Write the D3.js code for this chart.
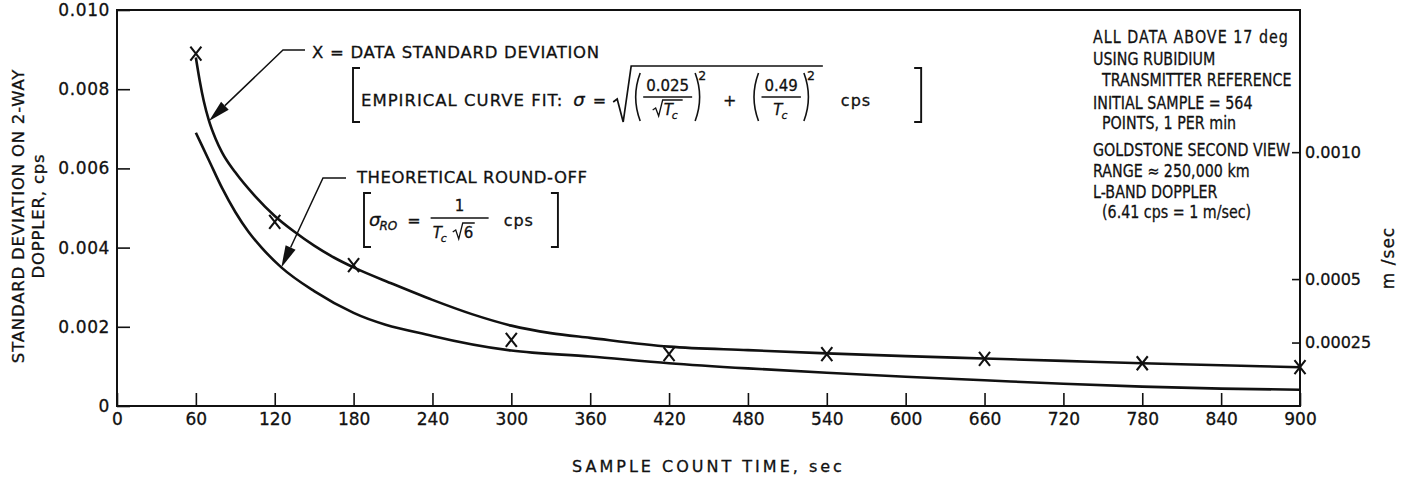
<!DOCTYPE html>
<html>
<head>
<meta charset="utf-8">
<script src="https://cdn.jsdelivr.net/npm/d3@7"></script>
<style>
  html, body { margin: 0; padding: 0; background: #ffffff; }
  svg { display: block; }
  svg text { stroke: #111; stroke-width: 0.3px; }
</style>
</head>
<body>
<svg id="chart" width="1410" height="481"></svg>
<script>
// ---- data ---------------------------------------------------------------
const xTicks = [0, 60, 120, 180, 240, 300, 360, 420, 480, 540, 600, 660, 720, 780, 840, 900];
const xTickLabels = ["0", "60", "120", "180", "240", "300", "360", "420", "480", "540", "600", "660", "720", "780", "840", "900"];
const yTicks = [0, 0.002, 0.004, 0.006, 0.008, 0.010];
const yTickLabels = ["0", "0.002", "0.004", "0.006", "0.008", "0.010"];
const mpsTicks = [0.0010, 0.0005, 0.00025];
const mpsTickLabels = ["0.0010", "0.0005", "0.00025"];
const cpsPerMps = 6.41;

// measured standard deviation (X marks)
const sampleTime = [60, 120, 180, 300, 420, 540, 660, 780, 900];
const dataSigma = [0.0089, 0.00465, 0.00356, 0.00167, 0.00131, 0.00131, 0.00119, 0.00108, 0.00098];

// empirical curve fit
const fitTime = [60, 63, 66, 70, 75, 80, 90, 105, 120, 135, 150, 165, 180, 210, 240, 270, 300, 330,
                 360, 420, 480, 540, 600, 660, 720, 780, 840, 900];
const fitSigma = [0.0088, 0.0082, 0.0077, 0.0072, 0.00675, 0.0064, 0.0059, 0.0053, 0.0048, 0.0044, 0.00405,
                  0.00375, 0.0035, 0.00308, 0.00268, 0.00232, 0.00203, 0.00184,
                  0.00172, 0.0015, 0.00141, 0.00133, 0.00126, 0.0012, 0.00114, 0.00108, 0.00103, 0.00098];

// theoretical round-off
const roTime = [60, 70, 80, 90, 100, 110, 125, 150, 180, 240, 300, 360, 420, 480, 540, 600, 660, 720, 780, 840, 900];
const roSigma = [0.0069, 0.0062, 0.0055, 0.0049, 0.0044, 0.0040, 0.0035, 0.0029, 0.00235, 0.00177, 0.0014,
                 0.00125, 0.00108, 0.00095, 0.00084, 0.00074, 0.00065, 0.00056, 0.00049, 0.00044, 0.00041];

const notes = [
  { text: "ALL DATA ABOVE 17 deg", indent: 0 },
  { text: "USING RUBIDIUM", indent: 0 },
  { text: "TRANSMITTER REFERENCE", indent: 1 },
  { text: "INITIAL SAMPLE = 564", indent: 0 },
  { text: "POINTS, 1 PER min", indent: 1 },
  { text: "GOLDSTONE SECOND VIEW", indent: 0 },
  { text: "RANGE \u2248 250,000 km", indent: 0 },
  { text: "L-BAND DOPPLER", indent: 0 },
  { text: "(6.41 cps = 1 m/sec)", indent: 1 }
];

// ---- setup --------------------------------------------------------------
const INK = "#111";
const FONT = "'DejaVu Sans', 'Liberation Sans', sans-serif";
const svg = d3.select("#chart");

const x = d3.scaleLinear().domain([0, 900]).range([117, 1300]);
const y = d3.scaleLinear().domain([0, 0.010]).range([406, 10]);
const yMps = d3.scaleLinear().domain([0, 0.010 / cpsPerMps]).range([406, 10]);

// frame
svg.append("rect")
  .attr("x", x(0)).attr("y", y(0.010))
  .attr("width", x(900) - x(0)).attr("height", y(0) - y(0.010))
  .attr("fill", "none").attr("stroke", INK).attr("stroke-width", 2);

function styleAxis(g, size) {
  g.select(".domain").remove();
  g.selectAll(".tick line").attr("stroke", INK).attr("stroke-width", 1.6);
  g.selectAll(".tick text").attr("font-family", FONT).attr("font-size", size).attr("fill", INK);
}

// bottom axis
svg.append("g")
  .attr("transform", `translate(0,${y(0)})`)
  .call(d3.axisBottom(x).tickValues(xTicks).tickFormat((d, i) => xTickLabels[i])
    .tickSizeInner(-13).tickSizeOuter(0).tickPadding(7))
  .call(g => styleAxis(g, 17));

// left axis
svg.append("g")
  .attr("transform", `translate(${x(0)},0)`)
  .call(d3.axisLeft(y).tickValues(yTicks).tickFormat((d, i) => yTickLabels[i])
    .tickSizeInner(-13).tickSizeOuter(0).tickPadding(7))
  .call(g => styleAxis(g, 17))
  .call(g => g.selectAll(".tick text").attr("letter-spacing", 0.6));

// right axis in m/sec
svg.append("g")
  .attr("transform", `translate(${x(900)},0)`)
  .call(d3.axisRight(yMps).tickValues(mpsTicks).tickFormat((d, i) => mpsTickLabels[i])
    .tickSizeInner(-8).tickSizeOuter(0).tickPadding(5))
  .call(g => styleAxis(g, 16));

// axis titles
const yTitle = svg.append("g").attr("font-family", FONT).attr("fill", INK)
  .attr("font-size", 16.5).attr("letter-spacing", 0.8).attr("text-anchor", "middle");
yTitle.append("text").attr("transform", "translate(24,216) rotate(-90)").text("STANDARD DEVIATION ON  2-WAY");
yTitle.append("text").attr("transform", "translate(44,216) rotate(-90)").text("DOPPLER,  cps");

svg.append("text").attr("font-family", FONT).attr("fill", INK).attr("font-size", 16)
  .attr("letter-spacing", 3).attr("text-anchor", "middle")
  .attr("x", (x(0) + x(900)) / 2).attr("y", 472)
  .text("SAMPLE COUNT TIME, sec");

svg.append("text").attr("font-family", FONT).attr("fill", INK).attr("font-size", 17)
  .attr("letter-spacing", 1).attr("text-anchor", "middle")
  .attr("transform", "translate(1394,258) rotate(-90)")
  .text("m /sec");

// ---- curves -------------------------------------------------------------
const line = d3.line().x(d => x(d[0])).y(d => y(d[1])).curve(d3.curveMonotoneX);

svg.append("path")
  .datum(fitTime.map((t, i) => [t, fitSigma[i]]))
  .attr("d", line).attr("fill", "none").attr("stroke", INK).attr("stroke-width", 2.6);

svg.append("path")
  .datum(roTime.map((t, i) => [t, roSigma[i]]))
  .attr("d", line).attr("fill", "none").attr("stroke", INK).attr("stroke-width", 2.6);

// X marks
svg.append("g").selectAll("path")
  .data(sampleTime.map((t, i) => [t, dataSigma[i]]))
  .join("path")
  .attr("transform", d => `translate(${x(d[0])},${y(d[1])})`)
  .attr("d", "M-5.5,-7L5.5,7M-5.5,7L5.5,-7")
  .attr("fill", "none").attr("stroke", INK).attr("stroke-width", 2.1);

// ---- annotations --------------------------------------------------------
const ann = svg.append("g").attr("font-family", FONT).attr("fill", INK);

function put(str, x0, yb, size, o = {}) {
  const t = ann.append("text").attr("x", x0).attr("y", yb).attr("font-size", size).text(str);
  if (o.italic) t.attr("font-style", "italic");
  if (o.ls) t.attr("letter-spacing", o.ls);
  if (o.anchor) t.attr("text-anchor", o.anchor);
  return t;
}
const widthOf = t => t.node().getComputedTextLength();
function stroke(d, w = 1.7) {
  return ann.append("path").attr("d", d).attr("fill", "none").attr("stroke", INK).attr("stroke-width", w);
}
function squareBracket(xe, y0, y1, dir) {
  stroke(`M${xe + dir * 7},${y0}H${xe}V${y1}H${xe + dir * 7}`, 1.9);
}
function paren(xp, y0, y1, dir) {
  stroke(`M${xp},${y0}Q${xp - dir * 9},${(y0 + y1) / 2} ${xp},${y1}`, 1.6);
}
function leader(points, tip) {
  const prev = points[points.length - 1];
  const dx = tip[0] - prev[0], dy = tip[1] - prev[1];
  const len = Math.hypot(dx, dy), ux = dx / len, uy = dy / len;
  const L = 22, W = 5.5;
  const bx = tip[0] - ux * L, by = tip[1] - uy * L;
  stroke("M" + points.map(p => p.join(",")).join("L") + `L${bx},${by}`, 1.5);
  ann.append("path")
    .attr("d", `M${tip[0]},${tip[1]}L${bx - uy * W},${by + ux * W}L${bx + uy * W},${by - ux * W}Z`)
    .attr("fill", INK);
}
// T with subscript c
function tc(x0, yb, size) {
  const t = put("T", x0, yb, size, { italic: true });
  const c = put("c", x0 + widthOf(t) - 1, yb + 4, size * 0.72, { italic: true });
  return widthOf(t) - 1 + widthOf(c);
}

// data standard deviation label + leader
put("X = DATA STANDARD DEVIATION", 312, 58, 16.5, { ls: 0.7 });
const fitTipIdx = fitTime.indexOf(70);
leader([[305, 50], [283, 50]], [x(fitTime[fitTipIdx]), y(fitSigma[fitTipIdx])]);

// empirical curve fit formula
(function () {
  const yb = 106, top = 68, bot = 122;
  squareBracket(353, top, bot, 1);
  let cx = 361;
  cx += widthOf(put("EMPIRICAL CURVE FIT:", cx, yb, 16.5, { ls: 1.0 })) + 10;
  cx += widthOf(put("\u03c3", cx, yb, 18, { italic: true })) + 8;
  cx += widthOf(put("=", cx, yb, 16)) + 7;
  const rx = cx;
  cx += 20;

  function fraction(num, denFn, denW) {
    paren(cx + 7, 73, 121, 1);
    cx += 10;
    const nt = put(num, 0, 91, 15, { anchor: "middle" });
    const fw = Math.max(widthOf(nt), denW) + 6;
    nt.attr("x", cx + fw / 2);
    stroke(`M${cx},97H${cx + fw}`, 1.4);
    denFn(cx + fw / 2 - denW / 2, 115);
    cx += fw + 3;
    paren(cx, 73, 121, -1);
    cx += 3;
    cx += widthOf(put("2", cx, 80, 12.5)) + 2;
  }
  // first term: 0.025 / sqrt(Tc)
  fraction("0.025", (x0, yb2) => {
    stroke(`M${x0},${yb2 - 5}L${x0 + 3},${yb2 - 7}L${x0 + 6},${yb2 + 1}L${x0 + 10},${yb2 - 15}H${x0 + 30}`, 1.3);
    tc(x0 + 11, yb2, 15);
  }, 30);
  cx += 15;
  cx += widthOf(put("+", cx, yb, 16)) + 15;
  // second term: 0.49 / Tc
  fraction("0.49", (x0, yb2) => { tc(x0, yb2, 15); }, 16);
  stroke(`M${rx},${yb - 4}L${rx + 4},${yb - 7}L${rx + 10},${bot}L${rx + 18},${66}H${cx + 6}`, 1.7);
  cx += 24;
  cx += widthOf(put("cps", cx, yb, 16, { ls: 1 }));
  squareBracket(cx + 50, top, bot, -1);
})();

// theoretical round-off label + leader
put("THEORETICAL ROUND-OFF", 357, 183, 16.5, { ls: 0.5 });
const roTipIdx = roTime.indexOf(125);
leader([[346, 178], [323, 178]], [x(roTime[roTipIdx]), y(roSigma[roTipIdx])]);

(function () {
  const yb = 226, top = 193, bot = 247;
  squareBracket(364, top, bot, 1);
  let cx = 369;
  const s = put("\u03c3", cx, yb, 18, { italic: true });
  cx += widthOf(s) - 1;
  cx += widthOf(put("RO", cx, yb + 4, 12, { italic: true })) + 10;
  cx += widthOf(put("=", cx, yb, 16)) + 10;
  // fraction 1 / (Tc sqrt 6)
  const denW = 54;
  const fx = cx + denW / 2 + 2;
  put("1", fx, 211, 15, { anchor: "middle" });
  stroke(`M${cx},218H${cx + denW + 4}`, 1.3);
  const d0 = cx + 2;
  const tw = tc(d0, 238, 15);
  const r0 = d0 + tw + 6;
  stroke(`M${r0},232L${r0 + 3},230L${r0 + 6},239L${r0 + 10},223H${r0 + 22}`, 1.3);
  put("6", r0 + 11, 238, 15);
  cx += denW + 4 + 15;
  cx += widthOf(put("cps", cx, yb, 16, { ls: 1 }));
  squareBracket(cx + 24, top, bot, -1);
})();

// conditions block (lettering drawn slightly condensed)
const noteY = [37, 59, 80, 103, 123, 150, 171, 192, 212];
const noteSqueeze = 0.84;
svg.append("g")
  .attr("transform", `translate(1093,0) scale(${noteSqueeze},1)`)
  .attr("font-family", FONT).attr("fill", INK).attr("font-size", 17)
  .selectAll("text").data(notes).join("text")
  .attr("x", d => d.indent * 9 / noteSqueeze)
  .attr("y", (d, i) => noteY[i] + 6)
  .attr("letter-spacing", (d, i) => i === 0 ? 1.2 : 0)
  .text(d => d.text);
</script>
</body>
</html>
